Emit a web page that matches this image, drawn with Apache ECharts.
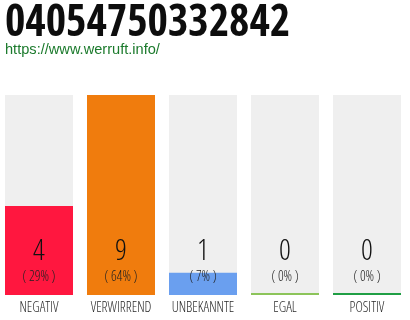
<!DOCTYPE html>
<html>
<head>
<meta charset="utf-8">
<script src="https://cdn.jsdelivr.net/npm/echarts@6/dist/echarts.min.js"></script>
<style>
  html, body { margin: 0; padding: 0; background: #fff; }
  #chart { width: 410px; height: 320px; }
</style>
</head>
<body>
<div id="chart"></div>
<script>
// Rating counts per category
const categories = ['NEGATIV', 'VERWIRREND', 'UNBEKANNTE', 'EGAL', 'POSITIV'];
const counts = [4, 9, 1, 0, 0];
const percents = [29, 64, 7, 0, 0];
const barColors = ['#ff173f', '#f07c0d', '#6a9fef', '#8cc45a', '#1f9e44'];
const phoneNumber = '04054750332842';
const siteUrl = 'https://www.werruft.info/';

const maxCount = Math.max(...counts);
const thinFamily = '"Open Sans", sans-serif';
const thinWeight = '300 condensed';

const chart = echarts.init(document.getElementById('chart'), null, { renderer: 'canvas' });

chart.setOption({
  animation: false,
  title: [
    {
      text: phoneNumber,
      left: 5,
      top: 3,
      padding: 0,
      textStyle: { fontFamily: '"Open Sans Condensed", sans-serif', fontWeight: 'bold', fontSize: 44, color: '#0d0d0d' }
    },
    {
      text: siteUrl,
      left: 5,
      top: 42,
      padding: 0,
      textStyle: { fontFamily: '"Liberation Sans", Arial, sans-serif', fontWeight: 'normal', fontSize: 14.6, color: '#1b7a2c' }
    }
  ],
  grid: { left: -2, width: 410, top: 95, bottom: 25, containLabel: false, outerBoundsMode: 'none' },
  xAxis: {
    type: 'category',
    data: categories,
    axisLine: { show: false },
    axisTick: { show: false },
    axisLabel: {
      interval: 0,
      margin: 6,
      fontFamily: thinFamily,
      fontWeight: thinWeight,
      fontSize: 14,
      color: '#2a2a2a'
    }
  },
  yAxis: { type: 'value', min: 0, max: maxCount, show: false, splitLine: { show: false } },
  series: [
    {
      // full-height track behind each bar
      type: 'bar',
      data: categories.map(() => maxCount),
      barWidth: 68,
      barGap: '-100%',
      itemStyle: { color: '#efefef' },
      silent: true
    },
    {
      type: 'bar',
      data: counts.map((v, i) => ({ value: v, itemStyle: { color: barColors[i] } })),
      barWidth: 68,
      barMinHeight: 2,
      label: {
        show: true,
        position: 'insideBottom',
        distance: 7,
        formatter: p => '{v|' + counts[p.dataIndex] + '}\n{p|( ' + percents[p.dataIndex] + '% )}',
        rich: {
          v: { fontFamily: thinFamily, fontWeight: thinWeight, fontSize: 29, lineHeight: 28, color: '#111', align: 'center' },
          p: { fontFamily: thinFamily, fontWeight: thinWeight, fontSize: 14, lineHeight: 22, color: '#222', align: 'center' }
        }
      }
    }
  ]
});
</script>
</body>
</html>
